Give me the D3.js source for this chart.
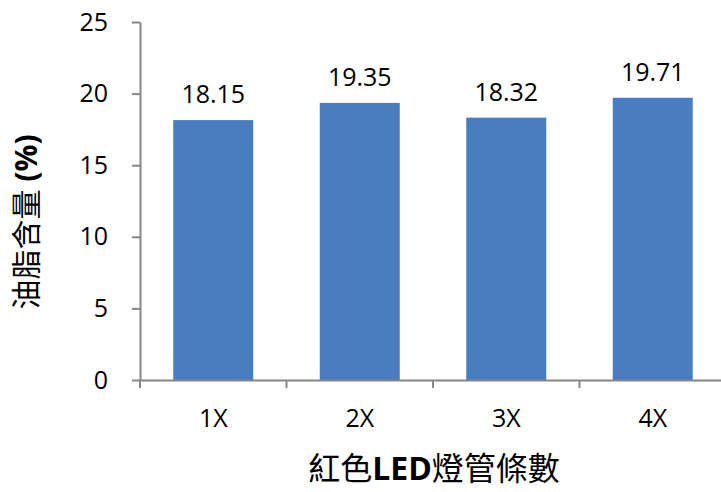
<!DOCTYPE html>
<html>
<head>
<meta charset="utf-8">
<script src="https://cdn.jsdelivr.net/npm/d3@7/dist/d3.min.js"></script>
<style>
  html, body { margin: 0; padding: 0; background: #ffffff; }
  svg { display: block; }
  text { font-family: "Open Sans", "Noto Sans CJK TC", sans-serif; fill: #000; }
</style>
</head>
<body>
<svg id="chart" width="721" height="492"></svg>
<script>
// Oil content by number of red LED tubes
const categories = ["1X", "2X", "3X", "4X"];
const oilContent = [18.15, 19.35, 18.32, 19.71];
const yTicks = [0, 5, 10, 15, 20, 25];

const svg = d3.select("#chart");
const plotLeft = 140, plotRight = 726, plotTop = 22, plotBottom = 380;

const x = d3.scaleBand()
  .domain(categories)
  .range([plotLeft, plotRight])
  .paddingInner(0.454)
  .paddingOuter(0.227);

const y = d3.scaleLinear().domain([0, 25]).range([plotBottom, plotTop]);

// bars
svg.append("g").selectAll("rect")
  .data(categories)
  .join("rect")
  .attr("x", d => x(d))
  .attr("width", x.bandwidth())
  .attr("y", (d, i) => y(oilContent[i]))
  .attr("height", (d, i) => y(0) - y(oilContent[i]))
  .attr("fill", "#4a7dbf");

// value labels
svg.append("g").selectAll("text")
  .data(categories)
  .join("text")
  .attr("x", d => x(d) + x.bandwidth() / 2)
  .attr("y", (d, i) => y(oilContent[i]) - 17)
  .attr("text-anchor", "middle")
  .style("font-size", "25px")
  .text((d, i) => oilContent[i].toFixed(2));

// y axis
const yAxis = svg.append("g")
  .attr("transform", `translate(${plotLeft},0)`)
  .call(d3.axisLeft(y).tickValues(yTicks).tickSize(8).tickPadding(24).tickSizeOuter(0));
yAxis.select(".domain").attr("stroke", "#868686").attr("stroke-width", 2);
yAxis.selectAll(".tick line").attr("stroke", "#868686").attr("stroke-width", 2);
yAxis.selectAll(".tick text")
  .style("font-size", "25px")
  .style("font-family", "'Open Sans', sans-serif")
  .attr("fill", "#000");

// x axis: labels centred on bands, tick marks at category boundaries
const xAxis = svg.append("g")
  .attr("transform", `translate(0,${plotBottom})`)
  .call(d3.axisBottom(x).tickSize(0).tickPadding(29).tickSizeOuter(0));
xAxis.select(".domain").attr("stroke", "#868686").attr("stroke-width", 2);
xAxis.selectAll(".tick text")
  .style("font-size", "25px")
  .style("font-family", "'Open Sans', sans-serif")
  .attr("fill", "#000");
const step = x.step();
const boundaries = d3.range(categories.length + 1).map(i => plotLeft + i * step);
xAxis.selectAll("line.boundary")
  .data(boundaries)
  .join("line")
  .attr("class", "boundary")
  .attr("x1", d => d).attr("x2", d => d)
  .attr("y1", 0).attr("y2", 8)
  .attr("stroke", "#868686").attr("stroke-width", 2);

// x axis title
const xt = svg.append("text")
  .attr("x", 434)
  .attr("y", 480)
  .attr("text-anchor", "middle")
  .style("font-size", "32px");
xt.append("tspan").text("紅色");
xt.append("tspan").style("font-weight", "bold").text("LED");
xt.append("tspan").text("燈管條數");

// y axis title
const yt = svg.append("text")
  .attr("transform", "translate(37,222) rotate(-90)")
  .attr("text-anchor", "middle")
  .style("font-size", "30px");
yt.append("tspan").text("油脂含量 ");
yt.append("tspan").style("font-weight", "bold").text("(%)");
</script>
</body>
</html>
